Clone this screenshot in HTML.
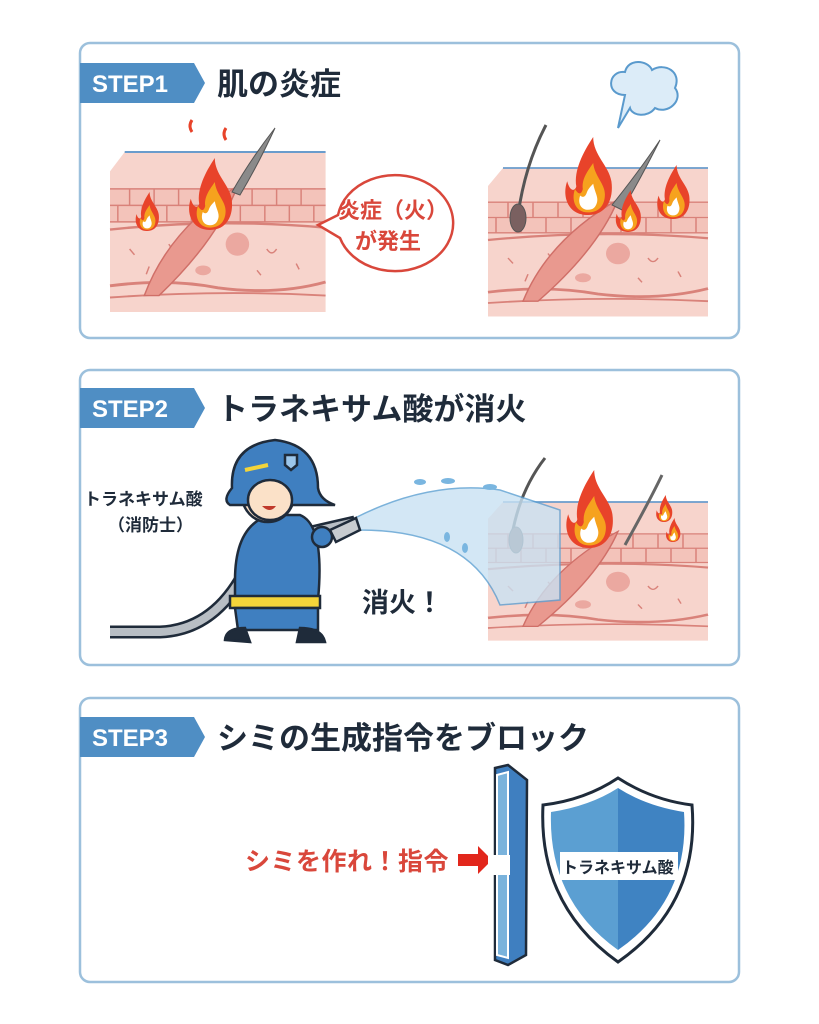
<!DOCTYPE html>
<html><head><meta charset="utf-8"><style>
html,body{margin:0;padding:0;background:#fff}
svg{display:block}
text{font-family:"Liberation Sans","Noto Sans CJK JP",sans-serif;font-weight:bold}
</style></head><body>
<svg width="819" height="1024" viewBox="0 0 819 1024" xmlns="http://www.w3.org/2000/svg">
<defs>
<g id="skin">
  <path d="M0 20 L15 0 L220 0 L220 165 L0 165 Z" fill="#f7d4cc"/>
  <line x1="15" y1="0" x2="220" y2="0" stroke="#6a9ccc" stroke-width="2"/>
  <rect x="0" y="38" width="220" height="34" fill="#f3c3ba"/>
  <g stroke="#d9827a" stroke-width="1.5" fill="none">
    <line x1="0" y1="38" x2="220" y2="38"/><line x1="0" y1="55" x2="220" y2="55"/><line x1="0" y1="72" x2="220" y2="72"/>
    <path d="M20 38v17M45 38v17M70 38v17M95 38v17M120 38v17M145 38v17M170 38v17M195 38v17M8 55v17M33 55v17M58 55v17M83 55v17M108 55v17M133 55v17M158 55v17M183 55v17M208 55v17"/>
    <path d="M0 80 Q110 68 220 78" stroke-width="2.5"/>
    <path d="M0 138 Q60 130 110 140 Q170 148 220 134" stroke-width="3"/>
    <path d="M0 150 Q110 142 220 148" stroke-width="2"/>
    <path d="M20 100l5 6M40 118l-3 8M160 100q5 8 10 0M190 115l3 6M150 122l4 5M60 95l4 6"/>
  </g>
  <path d="M35 148 Q60 80 130 35 Q110 90 50 148 Z" fill="#e9998f" stroke="#d06f68" stroke-width="1.5"/>
  <circle cx="130" cy="95" r="12" fill="#eba8a0"/>
  <ellipse cx="95" cy="122" rx="8" ry="5" fill="#eba8a0"/>
</g>
<g id="flame">
  <path d="M20 60 C4 60 0 45 4 34 C6 42 10 42 11 38 C9 26 16 12 24 0 C24 14 36 22 38 34 C40 48 34 60 20 60 Z" fill="#e8432a"/>
  <path d="M20 58 C10 58 7 48 10 40 C13 45 15 44 16 40 C15 32 20 26 24 20 C25 30 33 36 33 44 C33 53 28 58 20 58 Z" fill="#f6a21e"/>
  <path d="M20 56 C14 56 12 50 14 45 C16 47 18 46 19 43 C20 40 22 38 24 36 C25 42 28 46 27 50 C26 54 24 56 20 56 Z" fill="#fff"/>
</g>
</defs>

<g fill="none" stroke="#9cc0dc" stroke-width="2.5">
<rect x="80" y="43" width="659" height="295" rx="10"/>
<rect x="80" y="370" width="659" height="295" rx="10"/>
<rect x="80" y="698" width="659" height="284" rx="10"/>
</g>
<g fill="#4f8ec4">
<path d="M80 63 H194 L205 83 L194 103 H80 Z"/>
<path d="M80 388 H194 L205 408 L194 428 H80 Z"/>
<path d="M80 717 H194 L205 737 L194 757 H80 Z"/>
</g>
<g fill="#fff" font-size="24"><text x="92" y="92">STEP1</text><text x="92" y="417">STEP2</text><text x="92" y="746">STEP3</text></g>
<g fill="#1f2b3a" font-size="31">
<text x="217" y="95">肌の炎症</text>
<text x="217" y="420">トラネキサム酸が消火</text>
<text x="217" y="749">シミの生成指令をブロック</text>
</g>

<use href="#skin" transform="translate(110,152) scale(0.98,0.97)"/>
<path d="M232 192 Q250 160 275 128 Q258 165 240 195 Z" fill="#8a8a8a" stroke="#555" stroke-width="1"/>
<use href="#flame" transform="translate(186,158) scale(1.2)"/>
<use href="#flame" transform="translate(134,192) scale(0.65)"/>
<path d="M192 120 q-4 6 0 12" stroke="#e8432a" stroke-width="3" fill="none"/>
<path d="M226 128 q-4 6 0 12" stroke="#e8432a" stroke-width="3" fill="none"/>
<path d="M318 225 L338 215 A58 48 0 1 1 340 238 Z" fill="#fff" stroke="#d9473b" stroke-width="2.5"/>
<g fill="#d9473b" font-size="22"><text x="338" y="218">炎症（火）</text><text x="355" y="249">が発生</text></g>

<use href="#skin" transform="translate(488,168) scale(1,0.9)"/>
<path d="M518 215 Q525 165 546 125" stroke="#555" stroke-width="3" fill="none"/>
<ellipse cx="518" cy="218" rx="8" ry="14" fill="#7a6060" stroke="#555"/>
<path d="M612 205 Q640 170 660 140 Q640 180 622 210 Z" fill="#8a8a8a" stroke="#555"/>
<use href="#flame" transform="translate(562,137) scale(1.3)"/>
<use href="#flame" transform="translate(614,190) scale(0.7)"/>
<use href="#flame" transform="translate(655,165) scale(0.9)"/>
<path d="M625 95 C605 95 608 70 625 72 C628 58 648 60 652 70 C665 62 682 72 675 88 C684 100 668 115 655 108 C648 118 632 116 630 108 L618 128 Z" fill="#dcecf8" stroke="#5a9acd" stroke-width="2"/>

<g fill="#1f2b3a" font-size="17"><text x="84" y="505">トラネキサム酸</text><text x="108" y="531">（消防士）</text></g>
<use href="#skin" transform="translate(488,502) scale(1,0.84)"/>
<path d="M512 535 Q520 490 545 458" stroke="#555" stroke-width="3" fill="none"/>
<ellipse cx="516" cy="540" rx="7" ry="13" fill="#7a6060" stroke="#555"/>
<path d="M625 545 Q650 500 662 475" stroke="#666" stroke-width="3" fill="none"/>
<use href="#flame" transform="translate(563,470) scale(1.3)"/>
<use href="#flame" transform="translate(655,495) scale(0.45)"/>
<use href="#flame" transform="translate(665,518) scale(0.4)"/>
<path d="M355 518 Q430 480 500 490 L560 510 L560 600 L500 605 Q470 530 360 530 Z" fill="#c9e2f3" opacity="0.8" stroke="#5b9fd2" stroke-width="1.5"/>
<g fill="#7ab6e0"><ellipse cx="420" cy="482" rx="6" ry="3"/><ellipse cx="448" cy="481" rx="7" ry="3"/><ellipse cx="490" cy="487" rx="7" ry="3"/><ellipse cx="447" cy="537" rx="3" ry="5"/><ellipse cx="465" cy="548" rx="3" ry="5"/></g>
<path d="M110 632 H160 Q210 630 240 580 Q270 540 320 530 L355 522" stroke="#1f2b3a" stroke-width="13" fill="none"/>
<path d="M110 632 H160 Q210 630 240 580 Q270 540 320 530 L355 522" stroke="#b8bec4" stroke-width="8" fill="none"/>
<g stroke="#1f2b3a" stroke-width="2.5">
<path d="M235 580 Q235 525 270 515 L300 515 Q325 525 318 600 L235 600 Z" fill="#3f7fc0"/>
<rect x="230" y="596" width="90" height="12" fill="#f3d43a"/>
<path d="M235 608 H318 V630 H238 Z" fill="#3f7fc0"/>
<path d="M225 640 Q226 628 245 628 L250 642 Z" fill="#1f2b3a"/>
<path d="M325 642 Q322 628 300 628 L297 642 Z" fill="#1f2b3a"/>
<ellipse cx="268" cy="495" rx="26" ry="27" fill="#fbe1c8"/>
<path d="M232 488 Q230 445 275 440 Q318 445 318 488 Q320 500 335 505 L230 505 Q222 500 232 488 Z" fill="#3f7fc0"/>
<ellipse cx="270" cy="500" rx="22" ry="20" fill="#fbe1c8"/>
<path d="M285 455 h12 v10 l-6 5 l-6 -5 z" fill="#9cc6ea"/>
<circle cx="322" cy="537" r="10" fill="#3f7fc0"/>
<path d="M330 530 L356 518 L360 530 L336 542 Z" fill="#c8ccd0"/>
</g>
<path d="M245 470 L268 465" stroke="#f3d43a" stroke-width="4"/>
<path d="M262 506 q8 8 14 0" fill="#c0392b"/>
<text x="362" y="612" fill="#1f2b3a" font-size="27">消火！</text>

<text x="245" y="870" fill="#d9473b" font-size="25" letter-spacing="0.5">シミを作れ！指令</text>
<path d="M458 854 H478 V846 L492 860 L478 874 V866 H458 Z" fill="#e2271c"/>
<path d="M495 768 L508 765 L527 780 L526 955 L508 965 L495 960 Z" fill="#3f7fc0" stroke="#1f2b3a" stroke-width="2.5"/>
<path d="M497 775 L508 772 L508 958 L497 955 Z" fill="#7ab3dc" stroke="#fff" stroke-width="2"/>
<rect x="488" y="855" width="22" height="20" fill="#fff"/>
<path d="M543 805 Q585 800 618 778 Q652 800 692 805 Q700 905 618 962 Q538 905 543 805 Z" fill="#fff" stroke="#1f2b3a" stroke-width="3"/>
<path d="M551 812 Q590 806 618 788 L618 950 Q548 900 551 812 Z" fill="#5b9fd2"/>
<path d="M618 788 Q646 806 684 812 Q690 900 618 950 Z" fill="#3f83c2"/>
<rect x="560" y="852" width="118" height="28" fill="#fff"/>
<text x="562" y="873" fill="#1f2b3a" font-size="16">トラネキサム酸</text>
</svg>
</body></html>
